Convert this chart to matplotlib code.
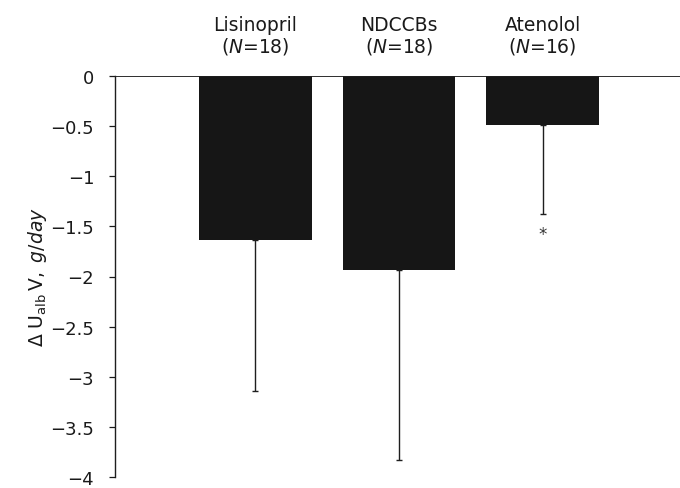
import numpy as np
import matplotlib.pyplot as plt
from matplotlib.transforms import blended_transform_factory

plt.rcParams.update({
    "font.family": "DejaVu Sans",
    "font.size": 13.5,
    "mathtext.fontset": "dejavusans",
    "axes.unicode_minus": True,
})

drugs = ["Lisinopril", "NDCCBs", "Atenolol"]
n_patients = [18, 18, 16]
mean_change = [-1.64, -1.94, -0.49]
sd_change = [1.50, 1.89, 0.89]
significant = [False, False, True]
y_ticks = [0, -0.5, -1, -1.5, -2, -2.5, -3, -3.5, -4]

fig = plt.figure(figsize=(6.8, 4.89), dpi=100)
ax = fig.add_axes([115 / 680, 1 - 478 / 489, 1 - 115 / 680, (478 - 77) / 489])

x = np.arange(len(drugs))
ax.bar(x, mean_change, width=0.787, color="#161616", zorder=2)
# one-sided (downward) error bars
ax.errorbar(x, mean_change, yerr=[sd_change, np.zeros(len(x))], fmt="none",
            ecolor="#1e1e1e", elinewidth=1.0, capsize=2.5, capthick=1.0, zorder=3)
ax.axhline(0, color="#1e1e1e", lw=1.3, zorder=4)

for i in range(len(drugs)):
    if significant[i]:
        ax.text(x[i], mean_change[i] - sd_change[i] - 0.2, "*", ha="center", va="center",
                fontsize=12, color="#333333")

trans = blended_transform_factory(ax.transData, ax.transAxes)
for i, name in enumerate(drugs):
    ax.text(x[i], 1.05, "%s\n($N$=%d)" % (name, n_patients[i]), transform=trans,
            ha="center", va="bottom", fontsize=13.5, linespacing=1.05, color="#1a1a1a")

ax.set_xlim(-0.979, 2.958)
ax.set_ylim(-4, 0)
ax.set_yticks(y_ticks)
ax.set_yticklabels(["0" if t == 0 else ("%g" % t).replace("-", "\u2212") for t in y_ticks])
ax.tick_params(axis="y", direction="out", length=4, width=0.9, pad=11, colors="#1a1a1a",
               labelsize=13)
ax.set_xticks([])
for side in ["top", "right", "bottom"]:
    ax.spines[side].set_visible(False)
ax.spines["left"].set_color("#1e1e1e")
ax.spines["left"].set_linewidth(1.0)
ax.set_ylabel(r"$\Delta\ \mathrm{U_{alb}}\,\mathrm{V},\ \mathit{g/day}$", fontsize=13.5,
              labelpad=1, color="#1a1a1a")

fig.savefig("out.png", dpi=100)
